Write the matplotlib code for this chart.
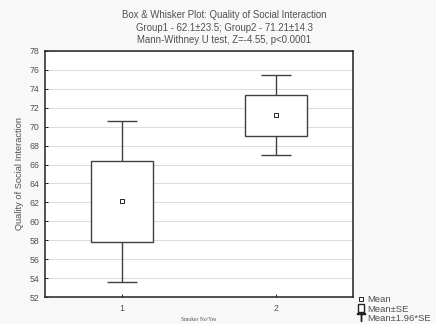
import matplotlib
matplotlib.use('Agg')
import matplotlib.pyplot as plt
from matplotlib.lines import Line2D
from matplotlib.patches import Patch

groups = [1, 2]
means = [62.1, 71.21]
se = [4.32, 2.15]
ci_factor = 1.96

plt.rcParams['font.family'] = ['Liberation Sans', 'DejaVu Sans']
text_col = '#505050'
edge_col = '#404040'

fig = plt.figure(figsize=(4.36, 3.24), dpi=100, facecolor='#f8f8f8')
ax = fig.add_axes([0.103, 0.083, 0.707, 0.760])
ax.set_facecolor('white')

# whiskers (mean +/- 1.96*SE)
ax.errorbar(groups, means, yerr=[ci_factor * s for s in se], fmt='none',
            ecolor=edge_col, elinewidth=1.0, capsize=11, capthick=1.0, zorder=2)
# boxes (mean +/- SE)
ax.bar(groups, [2 * s for s in se], bottom=[m - s for m, s in zip(means, se)],
       width=0.4, facecolor='white', edgecolor=edge_col, linewidth=1.0, zorder=3)
# mean points
ax.plot(groups, means, linestyle='none', marker='s', markersize=2.2,
        markerfacecolor='white', markeredgecolor='#222222', markeredgewidth=0.7, zorder=4)

ax.set_xlim(0.5, 2.5)
ax.set_ylim(52, 78)
ax.set_xticks(groups)
ax.set_yticks(range(52, 79, 2))
ax.yaxis.grid(True, color='#dddddd', linewidth=0.8)
ax.set_axisbelow(True)
for sp in ax.spines.values():
    sp.set_linewidth(1.1)
    sp.set_color('#222222')
ax.tick_params(axis='both', labelsize=6.3, labelcolor=text_col, length=2,
               width=0.6, direction='in')
ax.tick_params(axis='x', pad=5)
ax.tick_params(axis='y', pad=4)

ax.set_ylabel('Quality of Social Interaction', fontsize=6.7, color=text_col, labelpad=4)
ax.set_xlabel('Smoker No/Yes', fontsize=4.0, color=text_col,
              family=['Liberation Serif', 'DejaVu Serif'], labelpad=3)

fig.text(0.514, 0.953, 'Box & Whisker Plot: Quality of Social Interaction',
         ha='center', va='center', fontsize=6.9, color=text_col)
fig.text(0.514, 0.915, 'Group1 - 62.1\u00b123.5; Group2 - 71.21\u00b114.3',
         ha='center', va='center', fontsize=6.9, color=text_col)
fig.text(0.514, 0.878, 'Mann-Withney U test, Z=-4.55, p<0.0001',
         ha='center', va='center', fontsize=6.9, color=text_col)

handles = [
    Line2D([], [], linestyle='none', marker='s', markersize=2.2,
           markerfacecolor='white', markeredgecolor='#222222', markeredgewidth=0.7),
    Patch(facecolor='white', edgecolor='#222222', linewidth=1.0),
    Line2D([], [], linestyle='none', marker='$\u22a4$', markersize=6, color='#222222'),
]
fig.legend(handles, ['Mean', 'Mean\u00b1SE', 'Mean\u00b11.96*SE'],
           loc='upper left', bbox_to_anchor=(0.822, 0.089), frameon=False,
           fontsize=6.8, handlelength=0.6, handleheight=0.9, handletextpad=0.3,
           labelspacing=0.0, borderaxespad=0, borderpad=0, labelcolor=text_col)

fig.savefig('out.png', dpi=100, facecolor=fig.get_facecolor())
